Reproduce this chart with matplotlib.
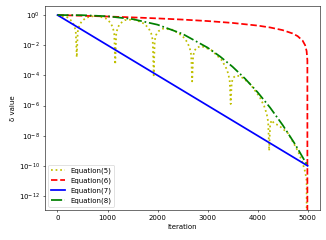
import numpy as np
import matplotlib
matplotlib.use("Agg")
import matplotlib.pyplot as plt

# --- data (log10 exponents where noted) ---
eq5_t = [0, 195, 285, 335, 365, 385, 405, 435, 485, 575, 769,
         964, 1054, 1104, 1134, 1154, 1174, 1204, 1254, 1344, 1538,
         1733, 1823, 1873, 1903, 1923, 1943, 1973, 2023, 2113, 2308,
         2502, 2592, 2642, 2672, 2692, 2712, 2742, 2792, 2882, 3077,
         3272, 3362, 3412, 3442, 3462, 3482, 3512, 3562, 3652, 3846,
         4041, 4131, 4181, 4211, 4231, 4251, 4281, 4331, 4421, 4615,
         4810, 4900, 4950, 4980, 5000]
eq5_log = [0, -0.15, -0.40, -0.69, -1.10, -2.8, -1.10, -0.70, -0.41, -0.17, -0.04,
           -0.22, -0.49, -0.80, -1.22, -3.27, -1.23, -0.83, -0.56, -0.34, -0.29,
           -0.57, -0.88, -1.22, -1.65, -4.0, -1.69, -1.30, -1.06, -0.90, -0.98,
           -1.40, -1.79, -2.17, -2.63, -4.4, -2.70, -2.34, -2.14, -2.07, -2.33,
           -2.95, -3.44, -3.87, -4.36, -5.9, -4.48, -4.16, -4.02, -4.05, -4.55,
           -5.43, -6.04, -6.54, -7.07, -9.0, -7.25, -6.97, -7.19, -7.31, -7.86,
           -9.05, -9.81, -10.39, -10.98, -np.inf]

eq6_t = [0, 500, 1000, 1500, 2000, 2500, 3000, 3500, 4000, 4250, 4500,
         4700, 4800, 4900, 4950, 4980, 4995, 5000]
eq6 = [1.0, 0.9, 0.8, 0.7, 0.6, 0.5, 0.4, 0.3, 0.2, 0.15, 0.1,
       0.06, 0.04, 0.02, 0.01, 0.004, 0.001, 0.0]

eq7_t = [0, 1000, 2000, 3000, 4000, 5000]
eq7 = [1.0, 1e-2, 1e-4, 1e-6, 1e-8, 1e-10]

eq8_t = [0, 500, 1000, 1500, 2000, 2500, 3000, 3250, 3500, 3750, 4000,
         4250, 4500, 4750, 5000]
eq8_log = [0, -0.01, -0.08, -0.27, -0.64, -1.25, -2.16, -2.75, -3.43, -4.22, -5.12,
           -6.14, -7.29, -8.57, -10.0]

eq5 = 10.0 ** np.array(eq5_log)
eq8 = 10.0 ** np.array(eq8_log)

fig = plt.figure(figsize=(6.52, 4.8), dpi=50)
ax = fig.add_axes([0.138, 0.125, 0.844, 0.85])

lw = 2.5
ax.plot(eq5_t, eq5, 'y:', linewidth=lw, label='Equation(5)')
ax.plot(eq6_t, eq6, 'r--', linewidth=lw, label='Equation(6)')
ax.plot(eq7_t, eq7, 'b-', linewidth=lw, label='Equation(7)')
ax.plot(eq8_t, eq8, 'g-.', linewidth=lw, label='Equation(8)')

ax.set_yscale('log')
ax.set_xlim(-250, 5250)
ax.set_ylim(10 ** -12.93, 10 ** 0.6)
ax.set_xticks([0, 1000, 2000, 3000, 4000, 5000])
ax.set_yticks([1e0, 1e-2, 1e-4, 1e-6, 1e-8, 1e-10, 1e-12])
ax.minorticks_off()
ax.set_xlabel('Iteration')
ax.set_ylabel('δ value')
ax.legend(loc='lower left')

fig.savefig('out.png', dpi=50)
